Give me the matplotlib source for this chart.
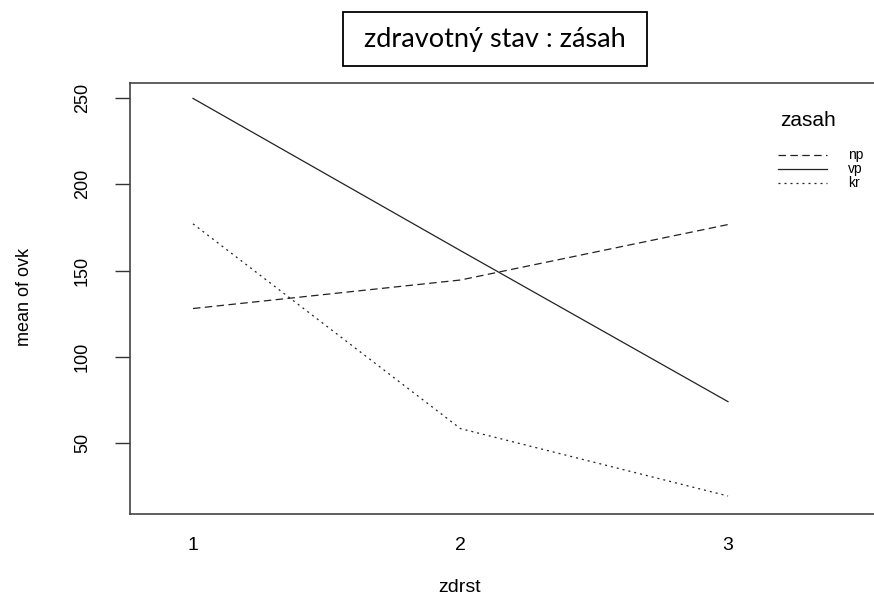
import matplotlib
matplotlib.use("Agg")
import matplotlib.pyplot as plt
from matplotlib.lines import Line2D
from matplotlib.patches import Rectangle

# data
zdrst = [1, 2, 3]
xtick_labels = ["1", "2", "3"]
series_names = ["np", "vp", "kr"]
np_vals = [128, 144.5, 176.6]
vp_vals = [249.6, 161.5, 74.1]
kr_vals = [177.0, 58.5, 19.5]
yticks = [50, 100, 150, 200, 250]

W, H = 874, 595
fig = plt.figure(figsize=(W / 100, H / 100), dpi=100)
plt.rcParams['font.family'] = ['Liberation Sans', 'DejaVu Sans']

def fx(px):
    return px / W

def fy(py):
    return 1 - py / H

left, right, top, bottom = 130, 961, 82.7, 513.5
ax = fig.add_axes([fx(left), fy(bottom), (right - left) / W, (bottom - top) / H])

lc = '#222222'
styles = [(0, (6, 3.5)), '-', (0, (1.6, 3.2))]
for vals, name, ls in zip([np_vals, vp_vals, kr_vals], series_names, styles):
    ax.plot(zdrst, vals, color=lc, lw=0.9, linestyle=ls, label=name)

ax.set_xlim(1 - 63 / 267.5, 1 + (right - 193) / 267.5)
ax.set_ylim(50 - (bottom - 443.3) / 1.728, 250 + (97.7 - top) / 1.728)

ax.set_xticks(zdrst)
ax.set_xticklabels(xtick_labels, fontsize=14)
ax.tick_params(axis='x', length=0, pad=17)
ax.set_yticks(yticks)
ax.set_yticklabels([str(v) for v in yticks], fontsize=13, rotation=90, va='center')
ax.tick_params(axis='y', length=11, width=1, color='#333333', pad=17)

for s in ax.spines.values():
    s.set_color('#444444')
    s.set_linewidth(1.2)

fig.text(fx(460), fy(587), 'zdrst', fontsize=14, ha='center', va='center')
fig.text(fx(25), fy(297), 'mean of ovk', fontsize=13, rotation=90, ha='center', va='center')

# legend (drawn manually, R-style)
fig.text(fx(808), fy(121), 'zasah', fontsize=15, ha='center', va='center')
row_y = [155, 169, 183]
for name, ls, ry in zip(series_names, styles, row_y):
    fig.add_artist(Line2D([fx(778), fx(827)], [fy(ry), fy(ry)], transform=fig.transFigure,
                          color=lc, lw=0.9, linestyle=ls))
    fig.text(fx(848), fy(ry), name, fontsize=10, ha='left', va='center')

# title in a box
fig.text(fx(495), fy(39), 'zdravotný stav : zásah', fontsize=19.5, family='Lato',
         ha='center', va='center')
fig.add_artist(Rectangle((fx(343), fy(66)), (647 - 343) / W, (66 - 12) / H,
                         transform=fig.transFigure, facecolor='none', edgecolor='black', linewidth=1.3))

fig.savefig('out.png', dpi=100)
